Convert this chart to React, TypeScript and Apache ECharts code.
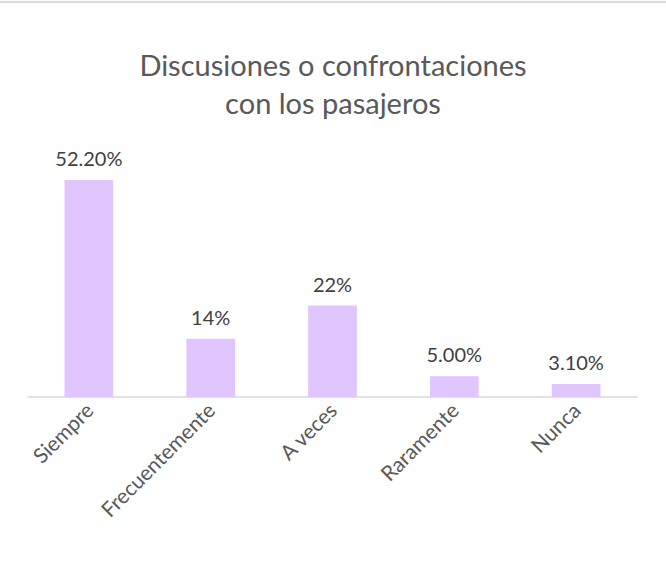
import React, { useEffect, useRef } from "react";
import * as echarts from "echarts";

const categories = ["Siempre", "Frecuentemente", "A veces", "Raramente", "Nunca"];
const values = [52.2, 14, 22, 5, 3.1];
const valueLabels = ["52.20%", "14%", "22%", "5.00%", "3.10%"];
const titleLines = ["Discusiones o confrontaciones", "con los pasajeros"];

const FONT = "Lato, 'Open Sans', sans-serif";

export default function App() {
  const ref = useRef<HTMLDivElement>(null);
  useEffect(() => {
    if (!ref.current) return;
    const chart = echarts.init(ref.current, undefined, { renderer: "svg" });
    chart.setOption({
      animation: false,
      backgroundColor: "#ffffff",
      title: {
        text: titleLines.join("\n"),
        left: "center",
        top: 40,
        textStyle: {
          fontFamily: FONT,
          fontSize: 29,
          lineHeight: 38,
          fontWeight: "normal",
          color: "#595959",
        },
      },
      graphic: [
        {
          type: "rect",
          shape: { x: 0, y: 1, width: 666, height: 2 },
          style: { fill: "#d9d9d9" },
          silent: true,
        },
      ],
      grid: { left: 28, right: 29, top: 147.6, bottom: 168, containLabel: false },
      xAxis: {
        type: "category",
        data: categories,
        axisLine: { show: true, lineStyle: { color: "#d9d9d9", width: 1.5 } },
        axisTick: { show: false },
        axisLabel: {
          rotate: 45,
          margin: 9,
          interval: 0,
          fontFamily: FONT,
          fontSize: 21,
          color: "#595959",
        },
      },
      yAxis: {
        type: "value",
        min: 0,
        max: 60,
        show: false,
        splitLine: { show: false },
      },
      series: [
        {
          type: "bar",
          data: values,
          barWidth: "40%",
          itemStyle: { color: "#e1c5fe" },
          label: {
            show: true,
            position: "top",
            distance: 12,
            fontFamily: FONT,
            fontSize: 20,
            color: "#404040",
            formatter: (p: any) => valueLabels[p.dataIndex],
          },
        },
      ],
    });
    return () => chart.dispose();
  }, []);
  return (
    <div
      ref={ref}
      style={{ position: "fixed", left: 0, top: 0, width: 666, height: 565 }}
    />
  );
}
